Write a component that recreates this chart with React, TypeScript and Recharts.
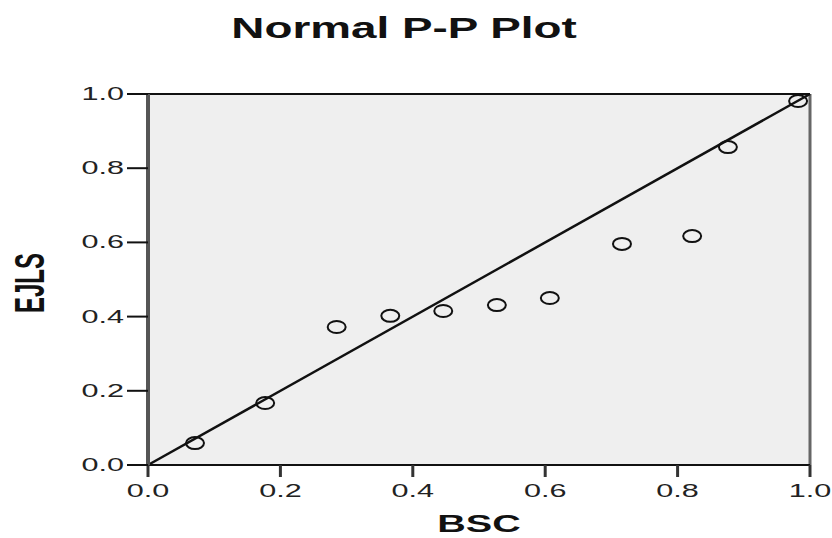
import { ScatterChart, Scatter, XAxis, YAxis, CartesianGrid, ReferenceLine } from "recharts"

// observed cumulative prob (BSC) vs expected cumulative prob (EJLS)
const observedProb = [0.071, 0.177, 0.285, 0.366, 0.446, 0.527, 0.607, 0.716, 0.822, 0.876, 0.982]
const expectedProb = [0.059, 0.167, 0.372, 0.402, 0.415, 0.431, 0.45, 0.596, 0.617, 0.857, 0.981]
const axisTicks = [0, 0.2, 0.4, 0.6, 0.8, 1.0]

const points = observedProb.map((x, i) => ({ x, y: expectedProb[i] }))

const FONT = "'Liberation Sans', Arial, sans-serif"

const XTick = (props: any) => {
  const { x, payload } = props
  return (
    <text transform={`translate(${x},497) scale(1.7,1)`} textAnchor="middle" fontFamily={FONT} fontSize={18} fill="#222">
      {payload.value.toFixed(1)}
    </text>
  )
}

const YTick = (props: any) => {
  const { y, payload } = props
  return (
    <text transform={`translate(124,${y + 6}) scale(1.7,1)`} textAnchor="end" fontFamily={FONT} fontSize={18} fill="#222">
      {payload.value.toFixed(1)}
    </text>
  )
}

const Ring = (props: any) => {
  const { cx, cy } = props
  return <ellipse cx={cx} cy={cy} rx={9} ry={6} fill="none" stroke="#111" strokeWidth={2} />
}

export default function App() {
  return (
    <div style={{ position: "absolute", left: 0, top: 0, width: 832, height: 538, background: "#fff" }}>
      <ScatterChart width={832} height={538} margin={{ top: 94, right: 22, bottom: 0, left: 0 }}>
        <CartesianGrid fill="#efefef" horizontal={false} vertical={false} />
        <XAxis
          type="number"
          dataKey="x"
          domain={[0, 1]}
          ticks={axisTicks}
          height={73}
          allowDataOverflow
          axisLine={{ stroke: "#111", strokeWidth: 2 }}
          tickLine={{ stroke: "#333", strokeWidth: 3 }}
          tickSize={12}
          tick={<XTick />}
        />
        <YAxis
          type="number"
          dataKey="y"
          domain={[0, 1]}
          ticks={axisTicks}
          width={148}
          allowDataOverflow
          axisLine={{ stroke: "#555", strokeWidth: 4 }}
          tickLine={{ stroke: "#111", strokeWidth: 2 }}
          tickSize={21}
          tick={<YTick />}
        />
        <ReferenceLine y={1} stroke="#111" strokeWidth={2} />
        <ReferenceLine x={1} stroke="#666" strokeWidth={3} />
        <ReferenceLine segment={[{ x: 0, y: 0 }, { x: 1, y: 1 }]} stroke="#111" strokeWidth={2.5} />
        <Scatter data={points} shape={<Ring />} isAnimationActive={false} />
      </ScatterChart>
      <svg width={832} height={538} style={{ position: "absolute", left: 0, top: 0, pointerEvents: "none" }}>
        <text transform="translate(404,38) scale(1.58,1)" textAnchor="middle" fontFamily={FONT} fontWeight="bold" fontSize={29} fill="#111">
          Normal P-P Plot
        </text>
        <text transform="translate(479,532) scale(1.72,1)" textAnchor="middle" fontFamily={FONT} fontWeight="bold" fontSize={23} fill="#111">
          BSC
        </text>
        <text transform="translate(44,283) scale(1.75,1) rotate(-90)" textAnchor="middle" fontFamily={FONT} fontWeight="bold" fontSize={24} fill="#111">
          EJLS
        </text>
      </svg>
    </div>
  )
}
